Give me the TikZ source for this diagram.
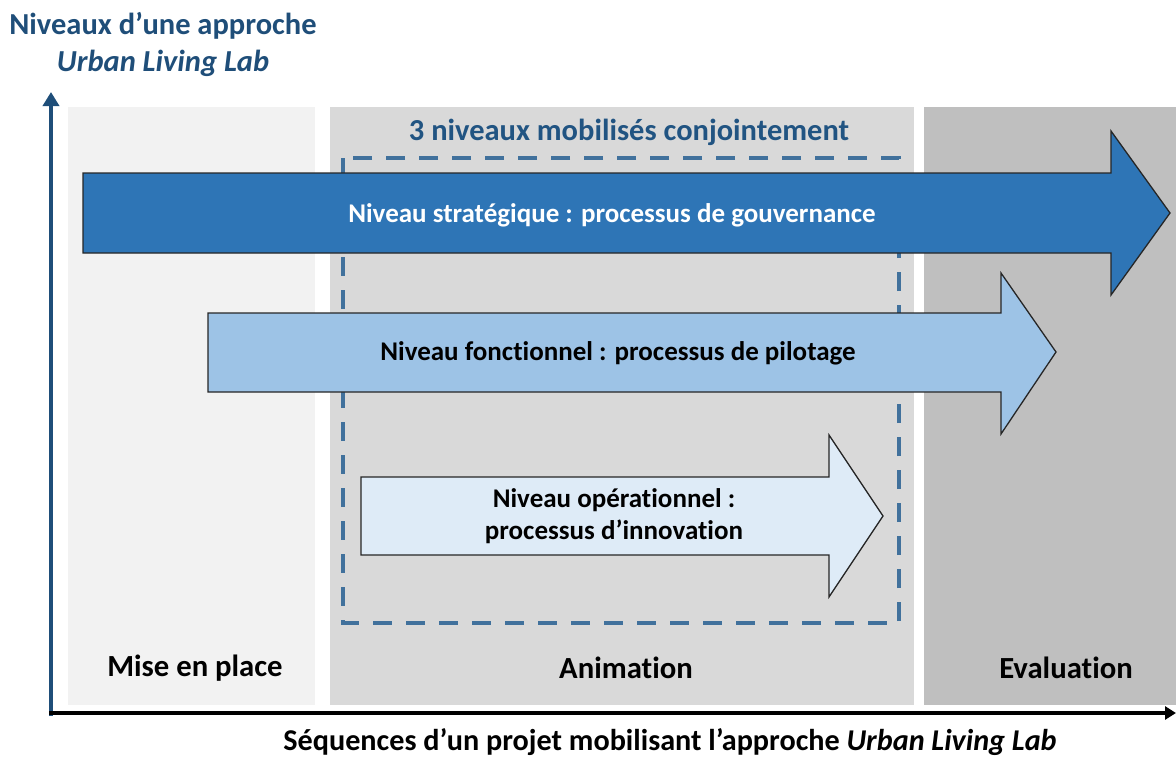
\documentclass[tikz,border=0pt]{standalone}
\usepackage{fontspec}
\setmainfont{Carlito}[Ligatures={TeX,NoCommon}]
\usepackage{xcolor}
\usetikzlibrary{arrows.meta}
\definecolor{titleblue}{HTML}{1F4E79}
\definecolor{dashblue}{HTML}{41719C}
\definecolor{stratblue}{HTML}{2E75B6}
\definecolor{fonctblue}{HTML}{9DC3E6}
\definecolor{operblue}{HTML}{DEEBF7}
\newcommand{\fs}[2]{\fontsize{#1}{#2}\selectfont}

\begin{document}
\begin{tikzpicture}[x=1pt,y=-1pt,
  t/.style={font=\fs{30.7}{36}\bfseries,align=center,inner sep=0pt},
  bigarrow/.style={draw=black!85,line width=1.3pt,line join=miter},
  axis/.style={line width=3.5pt}]
\useasboundingbox (0,0) rectangle (1176,758);
% sequences
\fill[black!5] (68,107) rectangle (315,705);
\fill[black!15] (330,107) rectangle (914,705);
\fill[black!25] (924,107) rectangle (1176,705);
\node[t] (mep) at (195,668) {Mise en place};
\node[t] (ani) at (626,668) {Animation};
\node[t] (eva) at (1066,668) {Evaluation};
% axes
\coordinate (o) at (51,713); \coordinate (ytop) at (51,92); \coordinate (xend) at (1176,713);
\draw[axis,titleblue,-{Triangle[length=14pt,width=16pt]}] (51,716) -- (ytop);
\draw[axis,black,-{Triangle[length=11pt,width=13pt]}] (49,713) -- (xend);
\node[t,titleblue,font=\fs{30.5}{37}\bfseries] (ytitle) at (163,44) {Niveaux d'une approche\\\itshape Urban Living Lab};
\node[t,font=\fs{30.2}{36}\bfseries,anchor=base] (xtitle) at (670,750) {Séquences d'un projet mobilisant l'approche \itshape Urban Living Lab};
% cadre pointille
\draw[dashblue,line width=4pt,dash pattern=on 19pt off 14pt] (343,158) rectangle (899,623);
\node[t,titleblue!85!stratblue,font=\fs{30.5}{32}\bfseries] (trois) at (629,132) {3 niveaux mobilisés conjointement};
% niveaux
\draw[bigarrow,fill=stratblue] (83,173) -- (1111,173) -- (1111,131) -- (1170,213) -- (1111,295) -- (1111,253) -- (83,253) -- cycle;
\node[t,white,font=\fs{27}{30}\bfseries] (strat) at (612,215) {Niveau stratégique : processus de gouvernance};
\draw[bigarrow,fill=fonctblue] (208,313) -- (1001,313) -- (1001,273) -- (1056,352) -- (1001,434) -- (1001,392) -- (208,392) -- cycle;
\node[t,font=\fs{27}{30}\bfseries] (fonct) at (618,353) {Niveau fonctionnel : processus de pilotage};
\draw[bigarrow,fill=operblue] (361,477) -- (829,477) -- (829,435) -- (883,516) -- (829,597) -- (829,555) -- (361,555) -- cycle;
\node[t,font=\fs{27}{32}\bfseries] (oper) at (614,516) {Niveau opérationnel :\\processus d'innovation};
\end{tikzpicture}
\end{document}
